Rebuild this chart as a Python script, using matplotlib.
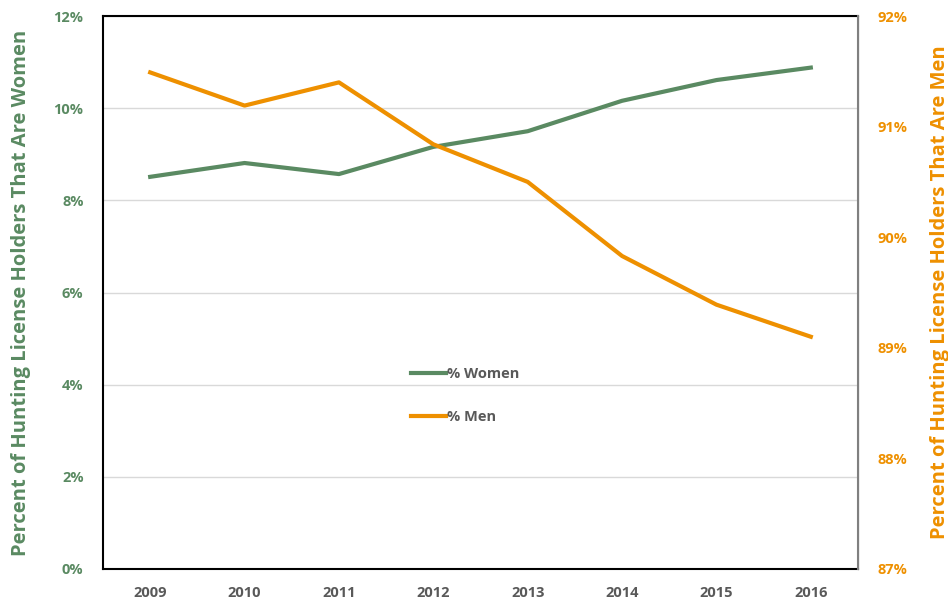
import numpy as np
import matplotlib
matplotlib.use("Agg")
import matplotlib.pyplot as plt
from matplotlib.ticker import FuncFormatter

plt.rcParams['font.family'] = ['Open Sans', 'DejaVu Sans']

years = ['2009', '2010', '2011', '2012', '2013', '2014', '2015', '2016']
pct_women = [8.51, 8.81, 8.57, 9.16, 9.50, 10.16, 10.61, 10.88]
pct_men = [91.49, 91.19, 91.40, 90.84, 90.50, 89.83, 89.39, 89.10]

green = '#5A8A62'
orange = '#EE9000'
gray = '#595959'

fig = plt.figure(figsize=(9.48, 6.01), dpi=100)
ax = fig.add_axes([103/948, 1 - 569/601, 755/948, 553/601])
ax2 = ax.twinx()

x = np.arange(len(years))
l1, = ax.plot(x, pct_women, color=green, lw=3, label='% Women')
l2, = ax2.plot(x, pct_men, color=orange, lw=3, label='% Men')

ax.set_xlim(-0.5, len(years) - 0.5)
ax.set_ylim(0, 12)
ax.set_yticks(np.arange(0, 13, 2))
ax2.set_ylim(87, 92)
ax2.set_yticks(np.arange(87, 93, 1))
ax.yaxis.set_major_formatter(FuncFormatter(lambda v, p: '%d%%' % v))
ax2.yaxis.set_major_formatter(FuncFormatter(lambda v, p: '%d%%' % v))
ax.set_xticks(x)
ax.set_xticklabels(years)

ax.grid(axis='y', color='#D9D9D9', lw=1)
ax.set_axisbelow(True)

ax.tick_params(axis='y', length=0, pad=14, labelsize=10.5, labelcolor=green)
ax.tick_params(axis='x', length=0, pad=12, labelsize=10.5, labelcolor=gray)
ax2.tick_params(axis='y', length=0, pad=14, labelsize=10.5, labelcolor=orange)
for lab in ax.get_xticklabels() + ax.get_yticklabels() + ax2.get_yticklabels():
    lab.set_fontweight('bold')

for s in ['left', 'bottom', 'top']:
    ax.spines[s].set_color('black')
    ax.spines[s].set_linewidth(1.5)
ax2.spines['right'].set_color('#808080')
ax2.spines['right'].set_linewidth(1.5)
for s in ['left', 'bottom', 'top']:
    ax2.spines[s].set_visible(False)

ax.set_ylabel('Percent of Hunting License Holders That Are Women', color=green,
              fontsize=14.5, fontweight='bold', labelpad=16)
ax2.set_ylabel('Percent of Hunting License Holders That Are Men', color=orange,
               fontsize=14.5, fontweight='bold', labelpad=16)

leg = ax2.legend(handles=[l1, l2], loc='center left', bbox_to_anchor=(0.39, 0.313),
                 frameon=False, fontsize=10.5, handlelength=2.4, handletextpad=0.1,
                 labelspacing=2.0)
for t in leg.get_texts():
    t.set_color(gray)
    t.set_fontweight('bold')

fig.savefig('out.png', dpi=100)
